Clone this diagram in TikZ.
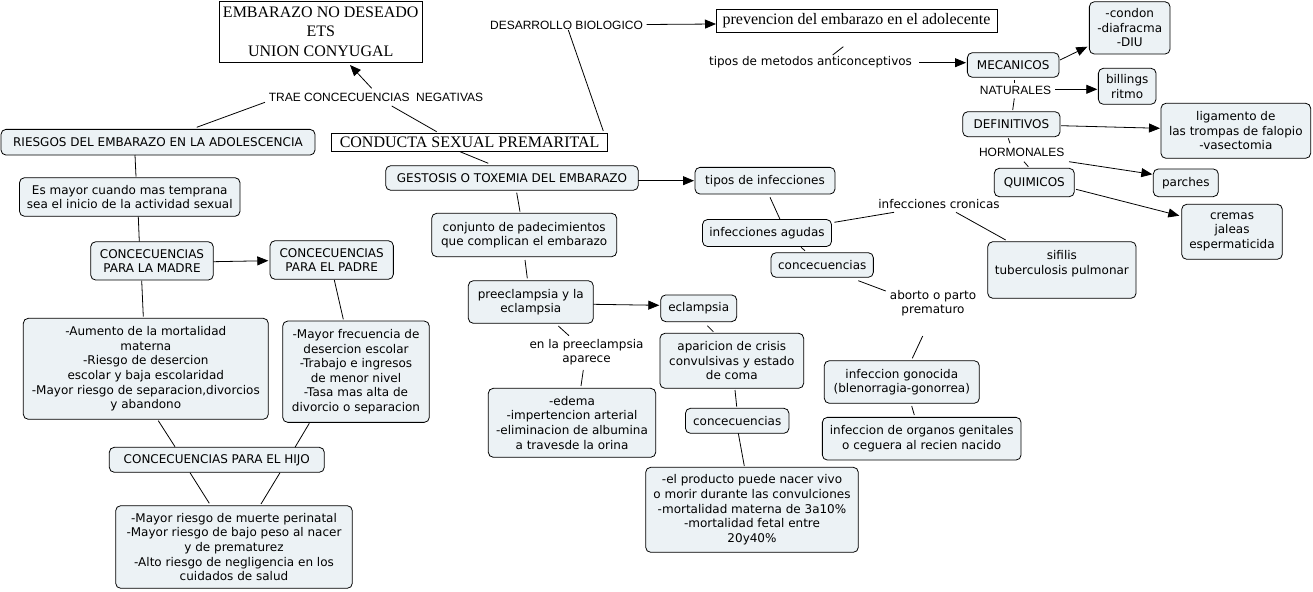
\documentclass[tikz,border=0pt]{standalone}
\usepackage{fontspec}
\usetikzlibrary{calc,arrows.meta}
\newfontfamily\dvfont{DejaVu Sans}
\newfontfamily\lsfont{Liberation Sans}
\newfontfamily\lserfont{Liberation Serif}
\definecolor{boxfill}{RGB}{236,242,245}
\tikzset{
  box/.style={draw=black, line width=0.8pt, rounded corners=5pt, fill=boxfill,
    font=\dvfont\fontsize{12}{14.6}\selectfont, align=center, inner sep=0pt},
  rbox/.style={draw=black, line width=0.8pt, fill=white,
    font=\lserfont\fontsize{16}{19.2}\selectfont, align=center, inner sep=0pt},
  lab/.style={font=\dvfont\fontsize{12}{14.6}\selectfont, align=center, inner sep=0pt},
  alab/.style={font=\lsfont\fontsize{12}{14}\selectfont, align=center, inner sep=0pt},
  con/.style={draw=black, line width=0.8pt},
  arr/.style={con, -{Triangle[length=11pt,width=9pt]}}
}
\begin{document}
\begin{tikzpicture}[x=1pt,y=-1pt]
\useasboundingbox (0,0) rectangle (1313,591);
% ---- nodes ----
\node[rbox, minimum width=203.5, minimum height=60.5] (top) at (320.75,31.75) {EMBARAZO NO DESEADO\\ETS\\UNION CONYUGAL};
\node[alab] (desbio) at (566.5,25.5) {DESARROLLO BIOLOGICO};
\node[rbox, minimum width=281, minimum height=23.4] (prev) at (856.5,21) {prevencion del embarazo en el adolecente};
\node[alab] (trae) at (376,97) {TRAE CONCECUENCIAS\ \ NEGATIVAS};
\node[box, minimum width=314, minimum height=25.7] (riesgos) at (158,142.2) {RIESGOS DEL EMBARAZO EN LA ADOLESCENCIA};
\node[rbox, minimum width=275.8, minimum height=18.4] (conducta) at (469.6,142.5) {CONDUCTA SEXUAL PREMARITAL};
\node[box, minimum width=252.6, minimum height=24.6] (gestosis) at (512,178) {GESTOSIS O TOXEMIA DEL EMBARAZO};
\node[box, minimum width=140, minimum height=26.7] (tiposinf) at (765,180.7) {tipos de infecciones};
\node[box, minimum width=220.5, minimum height=38.6] (esmayor) at (129.75,197) {Es mayor cuando mas temprana\\sea el inicio de la actividad sexual};
\node[box, minimum width=122.6, minimum height=38.3] (madre) at (152,260.9) {CONCECUENCIAS\\PARA LA MADRE};
\node[box, minimum width=123.3, minimum height=38.6] (padre) at (331.7,260) {CONCECUENCIAS\\PARA EL PADRE};
\node[box, minimum width=245, minimum height=101] (madrebox) at (145.8,368.8) {-Aumento de la mortalidad\\materna\\-Riesgo de desercion\\escolar y baja escolaridad\\-Mayor riesgo de separacion,divorcios\\y abandono};
\node[box, minimum width=146.6, minimum height=101.3] (padrebox) at (356,371.7) {-Mayor frecuencia de\\desercion escolar\\-Trabajo e ingresos\\de menor nivel\\-Tasa mas alta de\\divorcio o separacion};
\node[box, minimum width=215, minimum height=25] (hijo) at (216.8,459.8) {CONCECUENCIAS PARA EL HIJO};
\node[box, minimum width=236.6, minimum height=82.6] (hijobox) at (234,547) {-Mayor riesgo de muerte perinatal\\-Mayor riesgo de bajo peso al nacer\\y de prematurez\\-Alto riesgo de negligencia en los\\cuidados de salud};
\node[box, minimum width=185, minimum height=43.4] (conjunto) at (524.2,235) {conjunto de padecimientos\\que complican el embarazo};
\node[box, minimum width=125, minimum height=42.6] (preec) at (530.8,302) {preeclampsia y la\\eclampsia};
\node[box, minimum width=76, minimum height=26.7] (eclampsia) at (698.7,308.3) {eclampsia};
\node[lab] (enlapre) at (586.5,352) {en la preeclampsia\\aparece};
\node[box, minimum width=167.4, minimum height=69] (edema) at (572,422.8) {-edema\\-impertencion arterial\\-eliminacion de albumina\\a travesde la orina};
\node[box, minimum width=143.7, minimum height=55] (aparicion) at (731.8,360.8) {aparicion de crisis\\convulsivas y estado\\de coma};
\node[box, minimum width=103.5, minimum height=25] (conca) at (737.2,420.8) {concecuencias};
\node[box, minimum width=212.6, minimum height=85] (bigbox) at (752,509.8) {-el producto puede nacer vivo\\o morir durante las convulciones\\-mortalidad materna de 3a10\%\\-mortalidad fetal entre\\20y40\%};
\node[box, minimum width=129, minimum height=27] (agudas) at (767,233) {infecciones agudas};
\node[lab] (cronicas) at (939,204) {infecciones cronicas};
\node[box, minimum width=148.3, minimum height=56.6] (sifilis) at (1061.9,270) {sifilis\\tuberculosis pulmonar\\~};
\node[box, minimum width=102.3, minimum height=24.6] (concb) at (822.2,265) {concecuencias};
\node[lab] (aborto) at (933,303.3) {aborto o parto\\prematuro};
\node[box, minimum width=155, minimum height=42.6] (gonocida) at (901.8,382) {infeccion gonocida\\(blenorragia-gonorrea)};
\node[box, minimum width=198.7, minimum height=42.7] (organos) at (921.7,438.7) {infeccion de organos genitales\\o ceguera al recien nacido};
\node[lab] (metodos) at (810.5,62) {tipos de metodos anticonceptivos};
\node[box, minimum width=91.7, minimum height=24.6] (mecanicos) at (1013.2,65) {MECANICOS};
\node[box, minimum width=80.7, minimum height=52.3] (condon) at (1129.7,27.9) {-condon\\-diafracma\\-DIU};
\node[alab] (naturales) at (1015.5,90) {NATURALES};
\node[box, minimum width=57.7, minimum height=36] (billings) at (1127.2,86.3) {billings\\ritmo};
\node[box, minimum width=97.3, minimum height=25] (definitivos) at (1011.4,124.2) {DEFINITIVOS};
\node[box, minimum width=149.7, minimum height=55] (ligamento) at (1235.8,130.8) {ligamento de\\las trompas de falopio\\-vasectomia};
\node[alab] (hormonales) at (1021.7,152) {HORMONALES};
\node[box, minimum width=65, minimum height=27.7] (parches) at (1185.8,182.8) {parches};
\node[box, minimum width=80, minimum height=28.4] (quimicos) at (1034.3,182.5) {QUIMICOS};
\node[box, minimum width=100.6, minimum height=55] (cremas) at (1232,231.8) {cremas\\jaleas\\espermaticida};
% ---- connectors ----
\draw[arr] ($(desbio)+(80.2,-1)$) -- ($(prev)+(-140.5,3)$);
\draw[con] ($(desbio)+(1.8,4.5)$) -- ($(conducta)+(133.7,-11.5)$);
\draw[arr] ($(trae)+(-4.3,-8.7)$) -- ($(top)+(29.25,33.25)$);
\draw[con] ($(riesgos)+(38.7,-14.9)$) -- ($(trae)+(-111,5.3)$);
\draw[con] ($(conducta)+(-32.9,-10.8)$) -- ($(trae)+(15.7,9)$);
\draw[con] ($(conducta)+(-9.6,9.2)$) -- ($(gestosis)+(-23.7,-14.7)$);
\draw[arr] ($(gestosis)+(126.3,2.7)$) -- ($(tiposinf)+(-71,0)$);
\draw[con] ($(riesgos)+(-23,12.8)$) -- ($(esmayor)+(6.25,-20.3)$);
\draw[con] ($(esmayor)+(8.55,19.7)$) -- ($(madre)+(-12.7,-19.2)$);
\draw[arr] ($(madre)+(61.3,0.8)$) -- ($(padre)+(-63.4,0.7)$);
\draw[con] ($(madre)+(-10.3,19.8)$) -- ($(madrebox)+(-2.5,-52.1)$);
\draw[con] ($(padre)+(2.6,20)$) -- ($(padrebox)+(-12.7,-52.4)$);
\draw[con] ($(madrebox)+(12.5,51.9)$) -- ($(hijo)+(-41.8,-13.1)$);
\draw[con] ($(padrebox)+(-46.7,51.6)$) -- ($(hijo)+(78.2,-12.5)$);
\draw[con] ($(hijo)+(-26.8,12.9)$) -- ($(hijobox)+(-24.7,-43.7)$);
\draw[con] ($(hijo)+(63.2,12.9)$) -- ($(hijobox)+(27,-43)$);
\draw[con] ($(gestosis)+(4.7,14.7)$) -- ($(conjunto)+(-4.2,-23.3)$);
\draw[con] ($(conjunto)+(0.8,25)$) -- ($(preec)+(-3.5,-23.7)$);
\draw[arr] ($(preec)+(62.5,2.3)$) -- ($(eclampsia)+(-39.4,-3)$);
\draw[con] ($(preec)+(27.5,24)$) -- ($(enlapre)+(-17.5,-16.3)$);
\draw[con] ($(enlapre)+(-3.2,18)$) -- ($(edema)+(9,-36.8)$);
\draw[con] ($(eclampsia)+(8.6,17.4)$) -- ($(aparicion)+(-18.5,-29.1)$);
\draw[con] ($(aparicion)+(3.2,29.2)$) -- ($(conca)+(-0.5,-14.1)$);
\draw[con] ($(conca)+(1.1,12.5)$) -- ($(bigbox)+(-7.7,-43.8)$);
\draw[con] ($(tiposinf)+(5,16.6)$) -- ($(agudas)+(13,-13.7)$);
\draw[con] ($(agudas)+(67.3,-10.7)$) -- ($(cronicas)+(-45,8.3)$);
\draw[con] ($(cronicas)+(17,8.3)$) -- ($(sifilis)+(-56.2,-30)$);
\draw[con] ($(agudas)+(34,14.3)$) -- ($(concb)+(-17.2,-14.3)$);
\draw[con] ($(concb)+(36.1,15.7)$) -- ($(aborto)+(-47.3,-12.3)$);
\draw[con] ($(aborto)+(-10.3,32.7)$) -- ($(gonocida)+(10.5,-23.7)$);
\draw[con] ($(gonocida)+(9.9,24)$) -- ($(organos)+(-7.4,-23.7)$);
\draw[con] ($(prev)+(-13.2,25.7)$) -- ($(metodos)+(22.2,-7)$);
\draw[arr] ($(metodos)+(108.8,0.7)$) -- ($(mecanicos)+(-47.2,-2.3)$);
\draw[arr] ($(mecanicos)+(46.8,-5)$) -- ($(condon)+(-42.4,18.8)$);
\draw[con] ($(mecanicos)+(1.1,15)$) -- ($(naturales)+(-1.2,-6.7)$);
\draw[arr] ($(naturales)+(39.5,-0.7)$) -- ($(billings)+(-29.9,3)$);
\draw[con] ($(naturales)+(-1.2,8.3)$) -- ($(definitivos)+(1.3,-14.2)$);
\draw[arr] ($(definitivos)+(49.6,1.5)$) -- ($(ligamento)+(-75.8,-2.5)$);
\draw[con] ($(definitivos)+(-3.1,14.1)$) -- ($(hormonales)+(-11.7,-8.7)$);
\draw[arr] ($(hormonales)+(47.3,9.7)$) -- ($(parches)+(-33.5,-8.5)$);
\draw[con] ($(hormonales)+(2.3,9.7)$) -- ($(quimicos)+(-6,-15.8)$);
\draw[arr] ($(quimicos)+(41.7,6.8)$) -- ($(cremas)+(-52.7,-16.1)$);
\end{tikzpicture}
\end{document}
